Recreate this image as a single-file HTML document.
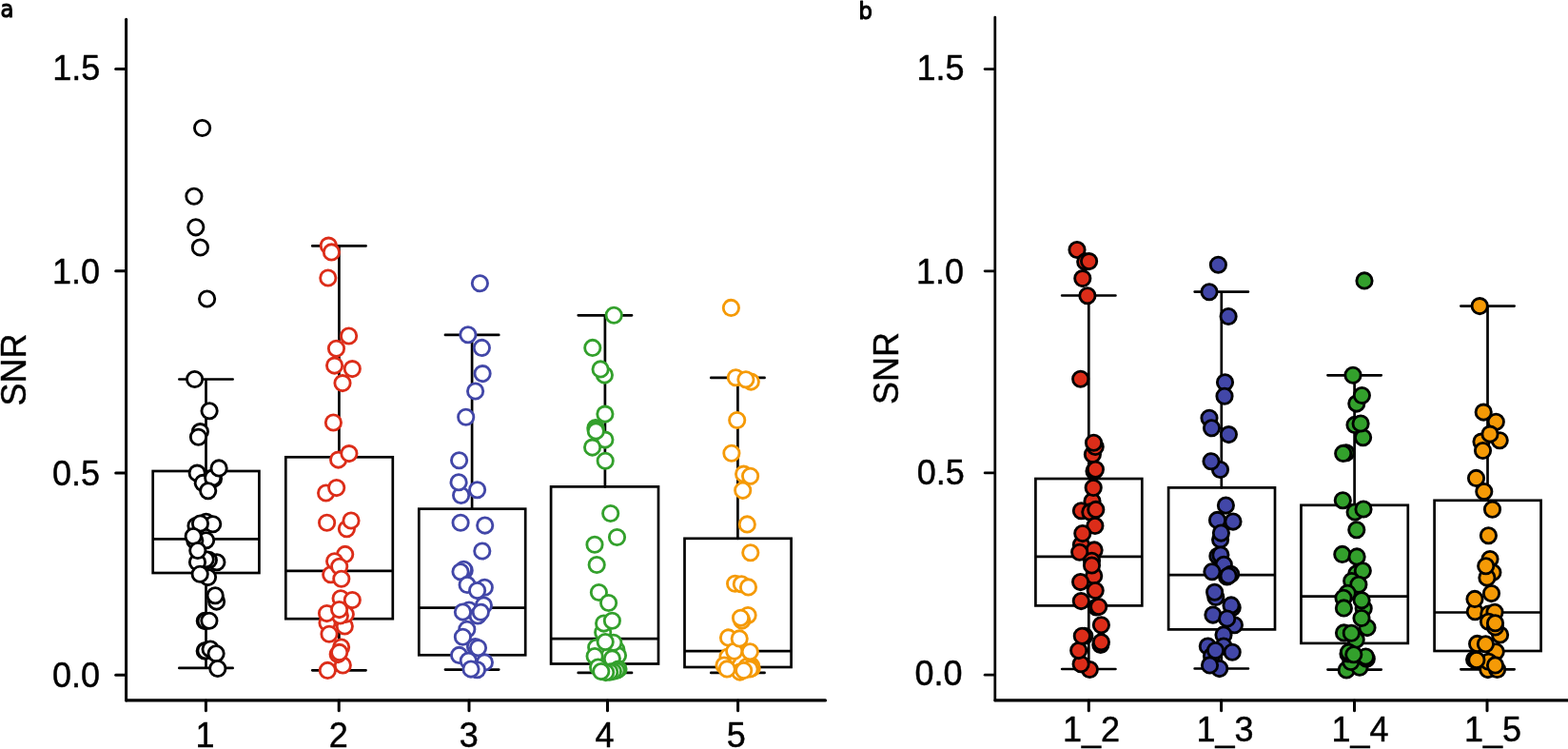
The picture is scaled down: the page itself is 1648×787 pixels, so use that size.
<!DOCTYPE html>
<html lang="en"><head><meta charset="utf-8"><title>SNR box plots</title>
<style>
html,body{margin:0;padding:0;background:#fff;}
body{width:1648px;height:787px;overflow:hidden;}
svg{display:block;}
text{font-family:"Liberation Sans",Arial,Helvetica,sans-serif;fill:#000;}
.t{font-size:36px;stroke:#000;stroke-width:0.45px;stroke-linejoin:round;}
.pl{font-family:"DejaVu Sans","Liberation Sans",sans-serif;font-size:24.4px;stroke:#000;stroke-width:1.1px;stroke-linejoin:round;}
.ax{fill:none;stroke:#000;stroke-width:3.0;stroke-linecap:round;stroke-linejoin:miter;}
.bx{fill:none;stroke:#000;stroke-width:2.7;stroke-linecap:round;stroke-linejoin:miter;}
.a1 circle{fill:#fff;stroke:#000;stroke-width:2.85;}
.a2 circle{fill:#fff;stroke:#dc2d19;stroke-width:2.85;}
.a3 circle{fill:#fff;stroke:#4247a8;stroke-width:2.85;}
.a4 circle{fill:#fff;stroke:#33a02c;stroke-width:2.85;}
.a5 circle{fill:#fff;stroke:#f59a06;stroke-width:2.85;}
.b1 circle{fill:#dc2d19;stroke:#000;stroke-width:2.85;}
.b2 circle{fill:#4247a8;stroke:#000;stroke-width:2.85;}
.b3 circle{fill:#33a02c;stroke:#000;stroke-width:2.85;}
.b4 circle{fill:#f59a06;stroke:#000;stroke-width:2.85;}
</style></head><body>
<svg width="1648" height="787" viewBox="0 0 1648 787" role="img" aria-label="SNR box plots, panels a and b">
<rect width="1648" height="787" fill="#fff"/>
<g class="panel">
<text class="pl" transform="translate(0.6 18.3) scale(0.93 1)">a</text>
<path class="ax" style="stroke-width:3.0" d="M132.6 20.3 V735.95"/>
<path class="ax" style="stroke-width:3.2" d="M132.85 735.95 H867.5"/>
<path class="ax" style="stroke-width:3.0" d="M131.6 72.6 H121.7"/>
<text class="t" x="55.3" y="83.8">1.5</text>
<path class="ax" style="stroke-width:3.0" d="M131.6 284.8 H121.7"/>
<text class="t" x="54.9" y="297.5">1.0</text>
<path class="ax" style="stroke-width:3.0" d="M131.6 496.95 H121.7"/>
<text class="t" x="54.9" y="509.6">0.5</text>
<path class="ax" style="stroke-width:3.0" d="M131.6 709.2 H121.7"/>
<text class="t" x="54.9" y="722.3">0.0</text>
<path class="ax" d="M216.4 735.95 V746.85"/>
<text class="t" x="205.6" y="785.1">1</text>
<path class="ax" d="M356.2 735.95 V746.85"/>
<text class="t" x="345.8" y="785.1">2</text>
<path class="ax" d="M493.0 735.95 V746.85"/>
<text class="t" x="482.7" y="785.1">3</text>
<path class="ax" d="M638.5 735.95 V746.85"/>
<text class="t" x="625.4" y="785.1">4</text>
<path class="ax" d="M775.6 735.95 V746.85"/>
<text class="t" x="763.7" y="785.1">5</text>
<text class="t" transform="translate(27.0 426.4) rotate(-90)">SNR</text>
</g>
<g class="panel">
<text class="pl" transform="translate(902.6 20.1) scale(0.93 1)">b</text>
<path class="ax" style="stroke-width:2.75" d="M1045.8 18.0 V735.95"/>
<path class="ax" style="stroke-width:3.2" d="M1046.05 735.95 H1650"/>
<path class="ax" style="stroke-width:2.75" d="M1044.8 72.6 H1035.1"/>
<text class="t" x="963.6" y="83.6">1.5</text>
<path class="ax" style="stroke-width:2.75" d="M1044.8 284.85 H1035.1"/>
<text class="t" x="962.9" y="297.5">1.0</text>
<path class="ax" style="stroke-width:2.75" d="M1044.8 496.9 H1035.1"/>
<text class="t" x="963.7" y="508.6">0.5</text>
<path class="ax" style="stroke-width:2.75" d="M1044.8 709.15 H1035.1"/>
<text class="t" x="961.5" y="719.7">0.0</text>
<path class="ax" d="M1144.3 735.95 V746.85"/>
<text class="t" x="1117.0" y="779.2">1_2</text>
<path class="ax" d="M1283.6 735.95 V746.85"/>
<text class="t" x="1257.4" y="779.2">1_3</text>
<path class="ax" d="M1423.5 735.95 V746.85"/>
<text class="t" x="1399.4" y="779.2">1_4</text>
<path class="ax" d="M1563.0 735.95 V746.85"/>
<text class="t" x="1539.0" y="779.2">1_5</text>
<text class="t" transform="translate(943.8 425.0) rotate(-90)">SNR</text>
</g>
<g class="a1">
<path class="bx" d="M188.35 398.5 H244.65 M216.5 398.5 V495.0 M216.5 602.0 V701.9 M188.35 701.9 H244.65 M161.7 566.3 H271.4"/>
<rect class="bx" x="160.7" y="495.0" width="111.7" height="107.0"/>
<circle cx="212.6" cy="134.5" r="8.15"/>
<circle cx="203.9" cy="206.2" r="8.15"/>
<circle cx="205.8" cy="238.8" r="8.15"/>
<circle cx="210.4" cy="260.0" r="8.15"/>
<circle cx="217.6" cy="314.0" r="8.15"/>
<circle cx="204.6" cy="398.5" r="8.15"/>
<circle cx="220.1" cy="431.8" r="8.15"/>
<circle cx="210.4" cy="453.6" r="8.15"/>
<circle cx="208.5" cy="459.3" r="8.15"/>
<circle cx="207.2" cy="497.1" r="8.15"/>
<circle cx="213.3" cy="507.4" r="8.15"/>
<circle cx="224.5" cy="502.9" r="8.15"/>
<circle cx="223.7" cy="502.0" r="8.15"/>
<circle cx="230.1" cy="491.9" r="8.15"/>
<circle cx="218.7" cy="515.7" r="8.15"/>
<circle cx="216.6" cy="548.3" r="8.15"/>
<circle cx="206.0" cy="552.6" r="8.15"/>
<circle cx="223.7" cy="550.7" r="8.15"/>
<circle cx="210.5" cy="550.1" r="8.15"/>
<circle cx="216.6" cy="567.8" r="8.15"/>
<circle cx="204.8" cy="568.0" r="8.15"/>
<circle cx="203.2" cy="563.5" r="8.15"/>
<circle cx="227.9" cy="590.7" r="8.15"/>
<circle cx="219.4" cy="588.4" r="8.15"/>
<circle cx="216.2" cy="587.8" r="8.15"/>
<circle cx="207.5" cy="590.7" r="8.15"/>
<circle cx="207.8" cy="578.5" r="8.15"/>
<circle cx="218.5" cy="606.6" r="8.15"/>
<circle cx="210.2" cy="603.2" r="8.15"/>
<circle cx="227.6" cy="632.1" r="8.15"/>
<circle cx="226.2" cy="625.8" r="8.15"/>
<circle cx="215.3" cy="652.4" r="8.15"/>
<circle cx="216.2" cy="652.5" r="8.15"/>
<circle cx="219.9" cy="652.2" r="8.15"/>
<circle cx="215.2" cy="683.9" r="8.15"/>
<circle cx="216.0" cy="683.7" r="8.15"/>
<circle cx="221.1" cy="682.0" r="8.15"/>
<circle cx="227.1" cy="686.8" r="8.15"/>
<circle cx="228.8" cy="702.5" r="8.15"/>
</g>
<g class="a2">
<path class="bx" d="M328.25 258.4 H384.55 M356.4 258.4 V480.3 M356.4 650.2 V704.3 M328.25 704.3 H384.55 M301.3 599.8 H411.8"/>
<rect class="bx" x="300.3" y="480.3" width="112.5" height="169.9"/>
<circle cx="345.3" cy="258.1" r="8.15"/>
<circle cx="348.4" cy="264.9" r="8.15"/>
<circle cx="344.8" cy="292.0" r="8.15"/>
<circle cx="366.6" cy="353.0" r="8.15"/>
<circle cx="353.5" cy="366.3" r="8.15"/>
<circle cx="351.6" cy="384.1" r="8.15"/>
<circle cx="370.3" cy="387.6" r="8.15"/>
<circle cx="360.0" cy="402.6" r="8.15"/>
<circle cx="350.4" cy="444.0" r="8.15"/>
<circle cx="355.6" cy="483.1" r="8.15"/>
<circle cx="366.9" cy="476.6" r="8.15"/>
<circle cx="342.6" cy="518.0" r="8.15"/>
<circle cx="353.7" cy="512.6" r="8.15"/>
<circle cx="343.6" cy="549.2" r="8.15"/>
<circle cx="364.4" cy="555.7" r="8.15"/>
<circle cx="369.0" cy="547.0" r="8.15"/>
<circle cx="362.7" cy="582.4" r="8.15"/>
<circle cx="347.7" cy="603.7" r="8.15"/>
<circle cx="351.6" cy="589.7" r="8.15"/>
<circle cx="356.7" cy="595.2" r="8.15"/>
<circle cx="358.8" cy="608.3" r="8.15"/>
<circle cx="358.1" cy="628.7" r="8.15"/>
<circle cx="370.3" cy="630.6" r="8.15"/>
<circle cx="344.0" cy="654.6" r="8.15"/>
<circle cx="362.3" cy="658.0" r="8.15"/>
<circle cx="363.3" cy="645.4" r="8.15"/>
<circle cx="357.4" cy="646.9" r="8.15"/>
<circle cx="343.5" cy="644.6" r="8.15"/>
<circle cx="356.6" cy="640.6" r="8.15"/>
<circle cx="346.0" cy="666.3" r="8.15"/>
<circle cx="360.3" cy="698.9" r="8.15"/>
<circle cx="358.6" cy="680.1" r="8.15"/>
<circle cx="355.2" cy="687.6" r="8.15"/>
<circle cx="356.7" cy="685.4" r="8.15"/>
<circle cx="344.3" cy="704.4" r="8.15"/>
</g>
<g class="a3">
<path class="bx" d="M467.95 351.9 H524.25 M496.1 351.9 V534.7 M496.1 688.3 V703.6 M467.95 703.6 H524.25 M441.3 638.7 H551.2"/>
<rect class="bx" x="440.3" y="534.7" width="111.9" height="153.6"/>
<circle cx="504.4" cy="297.8" r="8.15"/>
<circle cx="491.9" cy="351.8" r="8.15"/>
<circle cx="506.4" cy="365.4" r="8.15"/>
<circle cx="507.1" cy="392.6" r="8.15"/>
<circle cx="499.6" cy="411.0" r="8.15"/>
<circle cx="489.7" cy="438.2" r="8.15"/>
<circle cx="482.6" cy="483.7" r="8.15"/>
<circle cx="484.6" cy="520.5" r="8.15"/>
<circle cx="482.1" cy="506.7" r="8.15"/>
<circle cx="501.6" cy="514.7" r="8.15"/>
<circle cx="484.1" cy="549.2" r="8.15"/>
<circle cx="509.7" cy="552.1" r="8.15"/>
<circle cx="506.8" cy="579.0" r="8.15"/>
<circle cx="488.2" cy="599.5" r="8.15"/>
<circle cx="487.4" cy="598.3" r="8.15"/>
<circle cx="484.0" cy="600.8" r="8.15"/>
<circle cx="491.1" cy="614.4" r="8.15"/>
<circle cx="509.3" cy="617.3" r="8.15"/>
<circle cx="501.6" cy="620.6" r="8.15"/>
<circle cx="508.4" cy="636.0" r="8.15"/>
<circle cx="493.0" cy="641.0" r="8.15"/>
<circle cx="502.2" cy="647.0" r="8.15"/>
<circle cx="486.4" cy="643.1" r="8.15"/>
<circle cx="505.3" cy="643.2" r="8.15"/>
<circle cx="490.8" cy="661.3" r="8.15"/>
<circle cx="486.4" cy="669.3" r="8.15"/>
<circle cx="499.5" cy="679.5" r="8.15"/>
<circle cx="502.5" cy="680.8" r="8.15"/>
<circle cx="482.6" cy="688.4" r="8.15"/>
<circle cx="509.4" cy="695.9" r="8.15"/>
<circle cx="492.3" cy="694.2" r="8.15"/>
<circle cx="501.5" cy="703.8" r="8.15"/>
<circle cx="495.0" cy="703.1" r="8.15"/>
</g>
<g class="a4">
<path class="bx" d="M607.75 331.3 H664.05 M635.9 331.3 V511.4 M635.9 697.5 V706.9 M607.75 706.9 H664.05 M580.1 671.1 H691.0"/>
<rect class="bx" x="579.1" y="511.4" width="112.9" height="186.1"/>
<circle cx="645.2" cy="331.3" r="8.15"/>
<circle cx="622.8" cy="365.4" r="8.15"/>
<circle cx="635.4" cy="394.1" r="8.15"/>
<circle cx="631.1" cy="387.9" r="8.15"/>
<circle cx="635.9" cy="435.1" r="8.15"/>
<circle cx="635.9" cy="462.1" r="8.15"/>
<circle cx="626.0" cy="449.6" r="8.15"/>
<circle cx="626.1" cy="451.2" r="8.15"/>
<circle cx="626.3" cy="453.0" r="8.15"/>
<circle cx="622.6" cy="470.1" r="8.15"/>
<circle cx="636.2" cy="484.2" r="8.15"/>
<circle cx="641.7" cy="539.5" r="8.15"/>
<circle cx="648.5" cy="564.5" r="8.15"/>
<circle cx="625.0" cy="572.2" r="8.15"/>
<circle cx="627.2" cy="593.5" r="8.15"/>
<circle cx="629.4" cy="622.5" r="8.15"/>
<circle cx="639.6" cy="633.5" r="8.15"/>
<circle cx="633.7" cy="664.4" r="8.15"/>
<circle cx="634.6" cy="655.1" r="8.15"/>
<circle cx="643.4" cy="652.3" r="8.15"/>
<circle cx="626.7" cy="680.3" r="8.15"/>
<circle cx="647.9" cy="682.7" r="8.15"/>
<circle cx="649.5" cy="688.8" r="8.15"/>
<circle cx="644.8" cy="675.3" r="8.15"/>
<circle cx="636.2" cy="674.6" r="8.15"/>
<circle cx="625.1" cy="689.5" r="8.15"/>
<circle cx="643.4" cy="691.9" r="8.15"/>
<circle cx="628.6" cy="701.0" r="8.15"/>
<circle cx="650.0" cy="703.0" r="8.15"/>
<circle cx="647.9" cy="704.5" r="8.15"/>
<circle cx="644.4" cy="705.5" r="8.15"/>
<circle cx="640.8" cy="706.1" r="8.15"/>
<circle cx="636.7" cy="706.6" r="8.15"/>
<circle cx="631.8" cy="705.6" r="8.15"/>
</g>
<g class="a5">
<path class="bx" d="M747.25 396.9 H803.55 M775.4 396.9 V565.8 M775.4 701.0 V706.9 M747.25 706.9 H803.55 M720.5 684.2 H830.6"/>
<rect class="bx" x="719.5" y="565.8" width="112.1" height="135.2"/>
<circle cx="768.4" cy="323.4" r="8.15"/>
<circle cx="773.3" cy="396.8" r="8.15"/>
<circle cx="789.3" cy="401.1" r="8.15"/>
<circle cx="783.9" cy="398.7" r="8.15"/>
<circle cx="774.7" cy="441.5" r="8.15"/>
<circle cx="768.9" cy="476.2" r="8.15"/>
<circle cx="781.6" cy="498.1" r="8.15"/>
<circle cx="788.6" cy="500.3" r="8.15"/>
<circle cx="780.7" cy="515.3" r="8.15"/>
<circle cx="785.3" cy="550.9" r="8.15"/>
<circle cx="788.8" cy="580.7" r="8.15"/>
<circle cx="772.6" cy="613.3" r="8.15"/>
<circle cx="779.3" cy="613.7" r="8.15"/>
<circle cx="786.5" cy="616.9" r="8.15"/>
<circle cx="786.1" cy="646.6" r="8.15"/>
<circle cx="779.8" cy="652.1" r="8.15"/>
<circle cx="778.5" cy="649.3" r="8.15"/>
<circle cx="765.5" cy="669.9" r="8.15"/>
<circle cx="765.0" cy="690.2" r="8.15"/>
<circle cx="761.0" cy="699.0" r="8.15"/>
<circle cx="789.5" cy="699.5" r="8.15"/>
<circle cx="785.0" cy="700.5" r="8.15"/>
<circle cx="790.2" cy="702.0" r="8.15"/>
<circle cx="788.0" cy="702.9" r="8.15"/>
<circle cx="777.7" cy="706.1" r="8.15"/>
<circle cx="764.2" cy="702.9" r="8.15"/>
<circle cx="781.7" cy="704.5" r="8.15"/>
<circle cx="771.7" cy="684.2" r="8.15"/>
<circle cx="788.3" cy="684.7" r="8.15"/>
<circle cx="777.2" cy="670.9" r="8.15"/>
</g>
<g class="b1">
<path class="bx" d="M1116.15 310.5 H1172.45 M1144.3 310.5 V503.0 M1144.3 636.4 V703.0 M1116.15 703.0 H1172.45 M1089.4 584.8 H1199.3"/>
<rect class="bx" x="1088.4" y="503.0" width="111.9" height="133.4"/>
<circle cx="1132.0" cy="262.5" r="8.15"/>
<circle cx="1140.7" cy="274.9" r="8.15"/>
<circle cx="1144.6" cy="274.6" r="8.15"/>
<circle cx="1137.8" cy="292.6" r="8.15"/>
<circle cx="1142.9" cy="310.7" r="8.15"/>
<circle cx="1135.7" cy="398.2" r="8.15"/>
<circle cx="1148.4" cy="477.5" r="8.15"/>
<circle cx="1151.2" cy="469.4" r="8.15"/>
<circle cx="1149.5" cy="465.3" r="8.15"/>
<circle cx="1150.0" cy="495.0" r="8.15"/>
<circle cx="1151.4" cy="493.2" r="8.15"/>
<circle cx="1148.0" cy="526.8" r="8.15"/>
<circle cx="1149.2" cy="512.4" r="8.15"/>
<circle cx="1136.4" cy="536.7" r="8.15"/>
<circle cx="1145.8" cy="537.9" r="8.15"/>
<circle cx="1151.8" cy="535.4" r="8.15"/>
<circle cx="1150.9" cy="552.4" r="8.15"/>
<circle cx="1136.4" cy="572.6" r="8.15"/>
<circle cx="1137.8" cy="560.6" r="8.15"/>
<circle cx="1150.1" cy="577.9" r="8.15"/>
<circle cx="1134.7" cy="580.2" r="8.15"/>
<circle cx="1147.5" cy="589.3" r="8.15"/>
<circle cx="1149.7" cy="604.9" r="8.15"/>
<circle cx="1147.5" cy="594.0" r="8.15"/>
<circle cx="1135.6" cy="611.6" r="8.15"/>
<circle cx="1151.2" cy="620.5" r="8.15"/>
<circle cx="1152.3" cy="638.0" r="8.15"/>
<circle cx="1136.3" cy="631.6" r="8.15"/>
<circle cx="1154.7" cy="637.6" r="8.15"/>
<circle cx="1157.4" cy="656.8" r="8.15"/>
<circle cx="1145.3" cy="703.5" r="8.15"/>
<circle cx="1136.1" cy="697.7" r="8.15"/>
<circle cx="1133.7" cy="683.6" r="8.15"/>
<circle cx="1139.8" cy="668.2" r="8.15"/>
<circle cx="1137.3" cy="668.2" r="8.15"/>
<circle cx="1156.8" cy="677.4" r="8.15"/>
<circle cx="1157.4" cy="674.7" r="8.15"/>
</g>
<g class="b2">
<path class="bx" d="M1255.65 306.6 H1311.95 M1283.8 306.6 V512.4 M1283.8 661.4 V702.5 M1255.65 702.5 H1311.95 M1229.1 604.1 H1339.0"/>
<rect class="bx" x="1228.1" y="512.4" width="111.9" height="149.0"/>
<circle cx="1280.4" cy="278.2" r="8.15"/>
<circle cx="1271.0" cy="306.8" r="8.15"/>
<circle cx="1291.1" cy="332.5" r="8.15"/>
<circle cx="1287.5" cy="401.7" r="8.15"/>
<circle cx="1287.0" cy="416.2" r="8.15"/>
<circle cx="1271.0" cy="439.2" r="8.15"/>
<circle cx="1273.5" cy="449.8" r="8.15"/>
<circle cx="1291.4" cy="456.6" r="8.15"/>
<circle cx="1282.5" cy="493.5" r="8.15"/>
<circle cx="1273.0" cy="484.7" r="8.15"/>
<circle cx="1288.4" cy="531.1" r="8.15"/>
<circle cx="1279.5" cy="546.4" r="8.15"/>
<circle cx="1296.0" cy="548.1" r="8.15"/>
<circle cx="1282.6" cy="566.9" r="8.15"/>
<circle cx="1283.4" cy="560.1" r="8.15"/>
<circle cx="1279.9" cy="584.3" r="8.15"/>
<circle cx="1282.9" cy="583.0" r="8.15"/>
<circle cx="1286.3" cy="593.3" r="8.15"/>
<circle cx="1293.6" cy="603.2" r="8.15"/>
<circle cx="1273.9" cy="600.7" r="8.15"/>
<circle cx="1289.6" cy="606.0" r="8.15"/>
<circle cx="1291.1" cy="605.0" r="8.15"/>
<circle cx="1277.8" cy="627.4" r="8.15"/>
<circle cx="1276.6" cy="622.3" r="8.15"/>
<circle cx="1295.2" cy="638.4" r="8.15"/>
<circle cx="1294.0" cy="635.9" r="8.15"/>
<circle cx="1274.9" cy="646.1" r="8.15"/>
<circle cx="1297.4" cy="656.7" r="8.15"/>
<circle cx="1289.7" cy="650.0" r="8.15"/>
<circle cx="1286.0" cy="666.9" r="8.15"/>
<circle cx="1269.3" cy="679.0" r="8.15"/>
<circle cx="1286.0" cy="679.0" r="8.15"/>
<circle cx="1273.5" cy="689.5" r="8.15"/>
<circle cx="1277.5" cy="683.6" r="8.15"/>
<circle cx="1295.2" cy="685.3" r="8.15"/>
<circle cx="1281.7" cy="702.6" r="8.15"/>
<circle cx="1271.5" cy="698.9" r="8.15"/>
</g>
<g class="b3">
<path class="bx" d="M1395.45 394.3 H1451.75 M1423.6 394.3 V530.8 M1423.6 675.9 V703.6 M1395.45 703.6 H1451.75 M1368.5 626.6 H1478.8"/>
<rect class="bx" x="1367.5" y="530.8" width="112.3" height="145.1"/>
<circle cx="1434.0" cy="294.9" r="8.15"/>
<circle cx="1422.0" cy="394.3" r="8.15"/>
<circle cx="1425.8" cy="424.1" r="8.15"/>
<circle cx="1431.4" cy="415.5" r="8.15"/>
<circle cx="1432.6" cy="459.8" r="8.15"/>
<circle cx="1424.0" cy="446.4" r="8.15"/>
<circle cx="1430.1" cy="445.0" r="8.15"/>
<circle cx="1414.8" cy="475.8" r="8.15"/>
<circle cx="1411.7" cy="476.4" r="8.15"/>
<circle cx="1411.3" cy="525.8" r="8.15"/>
<circle cx="1424.1" cy="538.1" r="8.15"/>
<circle cx="1433.0" cy="535.0" r="8.15"/>
<circle cx="1425.8" cy="556.8" r="8.15"/>
<circle cx="1410.8" cy="582.4" r="8.15"/>
<circle cx="1426.1" cy="584.9" r="8.15"/>
<circle cx="1425.8" cy="602.8" r="8.15"/>
<circle cx="1432.3" cy="599.8" r="8.15"/>
<circle cx="1420.7" cy="610.5" r="8.15"/>
<circle cx="1427.9" cy="614.2" r="8.15"/>
<circle cx="1416.2" cy="623.3" r="8.15"/>
<circle cx="1412.0" cy="628.3" r="8.15"/>
<circle cx="1433.2" cy="639.3" r="8.15"/>
<circle cx="1431.1" cy="630.7" r="8.15"/>
<circle cx="1412.4" cy="638.9" r="8.15"/>
<circle cx="1437.0" cy="659.6" r="8.15"/>
<circle cx="1431.0" cy="649.5" r="8.15"/>
<circle cx="1412.5" cy="664.9" r="8.15"/>
<circle cx="1425.2" cy="672.2" r="8.15"/>
<circle cx="1420.3" cy="665.2" r="8.15"/>
<circle cx="1415.2" cy="703.9" r="8.15"/>
<circle cx="1429.0" cy="701.3" r="8.15"/>
<circle cx="1419.8" cy="695.5" r="8.15"/>
<circle cx="1417.0" cy="687.0" r="8.15"/>
<circle cx="1417.6" cy="685.3" r="8.15"/>
<circle cx="1436.3" cy="692.3" r="8.15"/>
<circle cx="1435.4" cy="690.0" r="8.15"/>
<circle cx="1422.8" cy="687.7" r="8.15"/>
</g>
<g class="b4">
<path class="bx" d="M1535.35 321.6 H1591.65 M1563.5 321.6 V525.8 M1563.5 684.0 V703.3 M1535.35 703.3 H1591.65 M1508.6 643.5 H1618.6"/>
<rect class="bx" x="1507.6" y="525.8" width="112.0" height="158.2"/>
<circle cx="1555.2" cy="321.6" r="8.15"/>
<circle cx="1572.3" cy="443.3" r="8.15"/>
<circle cx="1559.2" cy="433.1" r="8.15"/>
<circle cx="1576.2" cy="462.7" r="8.15"/>
<circle cx="1557.0" cy="464.1" r="8.15"/>
<circle cx="1566.0" cy="456.1" r="8.15"/>
<circle cx="1558.5" cy="473.5" r="8.15"/>
<circle cx="1551.5" cy="502.4" r="8.15"/>
<circle cx="1559.8" cy="516.6" r="8.15"/>
<circle cx="1568.5" cy="535.2" r="8.15"/>
<circle cx="1564.4" cy="562.8" r="8.15"/>
<circle cx="1566.0" cy="587.5" r="8.15"/>
<circle cx="1568.9" cy="601.5" r="8.15"/>
<circle cx="1562.9" cy="607.1" r="8.15"/>
<circle cx="1561.7" cy="594.7" r="8.15"/>
<circle cx="1567.5" cy="623.6" r="8.15"/>
<circle cx="1550.3" cy="642.8" r="8.15"/>
<circle cx="1550.0" cy="629.4" r="8.15"/>
<circle cx="1564.8" cy="645.0" r="8.15"/>
<circle cx="1571.0" cy="643.3" r="8.15"/>
<circle cx="1564.5" cy="653.3" r="8.15"/>
<circle cx="1576.6" cy="667.0" r="8.15"/>
<circle cx="1571.5" cy="658.9" r="8.15"/>
<circle cx="1571.5" cy="654.7" r="8.15"/>
<circle cx="1552.6" cy="676.4" r="8.15"/>
<circle cx="1572.2" cy="684.7" r="8.15"/>
<circle cx="1561.4" cy="676.8" r="8.15"/>
<circle cx="1563.8" cy="703.6" r="8.15"/>
<circle cx="1573.6" cy="703.4" r="8.15"/>
<circle cx="1564.5" cy="695.2" r="8.15"/>
<circle cx="1549.6" cy="693.1" r="8.15"/>
<circle cx="1551.9" cy="693.4" r="8.15"/>
<circle cx="1571.5" cy="698.9" r="8.15"/>
</g>
</svg>
</body></html>
